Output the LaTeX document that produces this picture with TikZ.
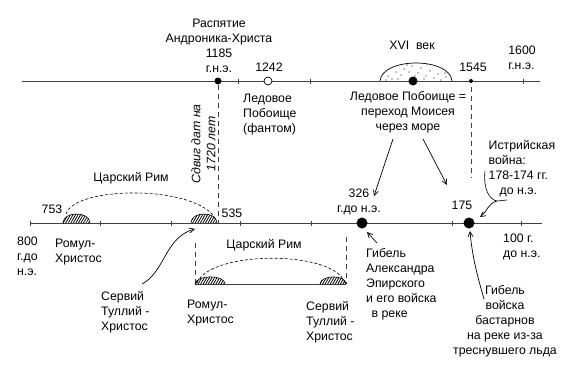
\documentclass[tikz,border=0pt]{standalone}
\usepackage{fontspec}
\setmainfont{Liberation Sans}
\usetikzlibrary{arrows.meta,patterns.meta}
\begin{document}
\begin{tikzpicture}[x=1pt,y=-1pt,
  lbl/.style={font=\fontsize{12.3}{15}\selectfont, inner sep=0pt},
  axis/.style={line width=0.8pt, black!75},
  tickmark/.style={line width=0.7pt, black!75},
  vdash/.style={line width=0.7pt, black!75, dash pattern=on 5pt off 4pt},
  arcdash/.style={line width=0.6pt, dash pattern=on 3pt off 2pt},
  hatch/.style={pattern={Lines[angle=60,distance=2.2pt,line width=0.8pt]}},
  arr/.style={line width=0.7pt, -{Straight Barb[length=5pt,width=5pt]}},
  bigdot/.style={circle, fill, inner sep=0pt, minimum size=11pt},
]
\useasboundingbox (0,0) rectangle (570,372);

% ---------- top axis ----------
\coordinate (t0) at (22,81);
\coordinate (t1) at (540,81);
\draw[axis] (t0) -- (t1);
\foreach \x in {238,310,523} \draw[tickmark] (\x,78.5) -- (\x,83.5);

% XVI century dome with dots
\begin{scope}
  \clip (380,81) .. controls (382,57) and (450,57) .. (452,81) -- cycle;
  \foreach \px/\py in {388/76,396/72,404/69,412/66,421/68,430/71,438/74,446/77,
                       392/79,401/75,409/72,418/73,426/76,434/78,398/79,415/76,424/79,441/80,
                       407/65,427/64,386/80,445/73}
    \fill (\px,\py) circle (0.55);
\end{scope}
\draw[line width=0.7pt] (380,81) .. controls (382,57) and (450,57) .. (452,81);

\node[circle, fill, inner sep=0pt, minimum size=7pt] (d1185) at (218,81) {};
\node[circle, draw, fill=white, line width=0.7pt, inner sep=0pt, minimum size=8pt] (d1242) at (268,81) {};
\node[circle, fill, inner sep=0pt, minimum size=9pt] (dxvi) at (413,81) {};
\node[circle, fill, inner sep=0pt, minimum size=4pt] (d1545) at (471,81) {};

% top labels
\node[lbl, anchor=north, align=center] (raspyatie) at (219,18.5)
  {Распятие\\Андроника-Христа\\1185\\г.н.э.};
\node[lbl] (l1242) at (269,67) {1242};
\node[lbl, anchor=north west, align=left] (ledfantom) at (243,93.5)
  {Ледовое\\Побоище\\(фантом)};
\node[lbl] (lxvi) at (412,45) {XVI\ \ век};
\node[lbl] (l1545) at (473,67) {1545};
\node[lbl, anchor=north, align=left] (l1600) at (522,45.5) {1600\\г.н.э.};
\node[lbl, anchor=north, align=center] (ledmoses) at (408,91.5)
  {Ледовое Побоище =\\переход Моисея\\через море};

% vertical dashed lines
\coordinate (v1b) at (218,223);
\draw[vdash] (d1185) -- (v1b);
\coordinate (v2a) at (471,87);
\coordinate (v2b) at (471,178);
\draw[vdash] (v2a) -- (v2b);

\node[lbl, font=\fontsize{12.3}{15}\selectfont\itshape, rotate=90, align=center] (sdvig) at (203.5,144)
  {Сдвиг дат на\\1720 лет};

% ---------- lower axis ----------
\coordinate (b0) at (30,223);
\coordinate (b1) at (542,223);
\draw[axis] (b0) -- (b1);
\foreach \x in {30,100,171,240,311,452,521} \draw[tickmark] (\x,220.5) -- (\x,225.5);

% hatched domes on lower axis
\fill[hatch] (63,223) .. controls (63,211) and (90,211) .. (90,223) -- cycle;
\draw[line width=0.6pt] (63,223) .. controls (63,211) and (90,211) .. (90,223);
\fill[hatch] (191,223) .. controls (191,211) and (217,211) .. (217,223) -- cycle;
\draw[line width=0.6pt] (191,223) .. controls (191,211) and (217,211) .. (217,223);
\draw[arcdash] (66,214) .. controls (75,185) and (200,185) .. (216,220);

\node[bigdot] (d326) at (362,223) {};
\node[bigdot] (d175) at (469,223) {};

\node[lbl] (tsar1) at (131,178) {Царский Рим};
\node[lbl] (l753) at (52,209) {753};
\node[lbl] (l535) at (232,213) {535};
\node[lbl, anchor=north west, align=left] (l800) at (17,236.5) {800\\г.до\\н.э.};
\node[lbl, anchor=north west, align=left] (romul1) at (55,239) {Ромул-\\Христос};
\node[lbl, anchor=north west, align=left] (servius1) at (101,291.5) {Сервий\\Туллий -\\Христос};
\coordinate (sa) at (142,284);
\coordinate (sb) at (195,229);
\draw[arr] (sa) .. controls (165,272) and (165,237) .. (sb);

% ---------- sub axis ----------
\coordinate (s0) at (195,284);
\coordinate (s1) at (346,284);
\draw[axis] (s0) -- (s1);
\coordinate (s0t) at (195,243);
\coordinate (s1t) at (346,237);
\draw[vdash] (s0t) -- (s0);
\draw[vdash] (s1t) -- (s1);
\fill[hatch] (195,284) .. controls (196,274.5) and (225,274.5) .. (225,284) -- cycle;
\draw[line width=0.6pt] (195,284) .. controls (196,274.5) and (225,274.5) .. (225,284);
\fill[hatch] (320,284) .. controls (321,274.5) and (346,274.5) .. (346,284) -- cycle;
\draw[line width=0.6pt] (320,284) .. controls (321,274.5) and (346,274.5) .. (346,284);
\draw[arcdash] (197,283) .. controls (210,250) and (335,250) .. (345,283);

\node[lbl] (tsar2) at (264,245) {Царский Рим};
\node[lbl, anchor=north west, align=left] (romul2) at (187,299.5) {Ромул-\\Христос};
\node[lbl, anchor=north west, align=left] (servius2) at (306,301.5) {Сервий\\Туллий -\\Христос};

% 326
\node[lbl, anchor=north, align=center] (l326) at (359,188.5) {326\\г.до н.э.};
\node[lbl, anchor=north west, align=left] (alex) at (366,248.5)
  {Гибель\\Александра\\Эпирского\\и его войска\\\ \,в реке};
\coordinate (aa) at (377,243);
\coordinate (ab) at (367,232);
\draw[arr] (aa) -- (ab);

% arrows from Moses text
\coordinate (m1a) at (393,139);
\coordinate (m1b) at (374,196);
\draw[arr] (m1a) -- (m1b);
\coordinate (m2a) at (423,139);
\coordinate (m2b) at (447,185);
\draw[arr] (m2a) -- (m2b);

% 175
\node[lbl] (l175) at (462,205) {175};
\node[lbl, anchor=north west, align=left] (l100) at (503,233.5) {100 г.\\до н.э.};
\node[lbl, anchor=north west, align=left] (istria) at (488.5,140.5)
  {Истрийская\\война:\\178-174 гг.\\\hspace{11pt}до н.э.};
\coordinate (ia) at (485,171);
\coordinate (ib) at (497,201);
\coordinate (ic) at (507,200);
\coordinate (id) at (480,217);
\draw[line width=0.6pt] (ia) .. controls (483,190) and (490,200) .. (ib) -- (ic);
\draw[arr] (ib) .. controls (488,203) and (487,212) .. (id);

\node[lbl, anchor=north, align=center] (bastarn) at (505,285)
  {Гибель\\войска\\бастарнов\\на реке из-за\\треснувшего льда};
\coordinate (ba) at (484,299);
\coordinate (bb) at (470,231);
\draw[arr] (ba) .. controls (477,275) and (472,255) .. (bb);

\end{tikzpicture}
\end{document}
